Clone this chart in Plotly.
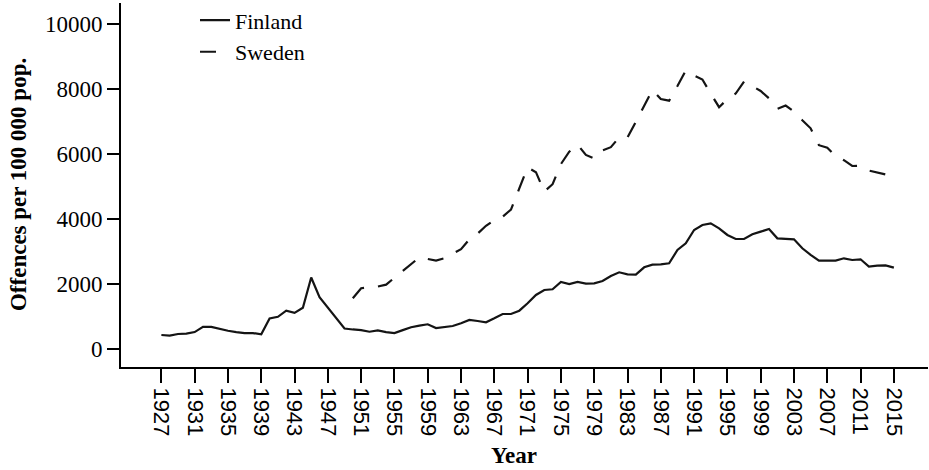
import plotly.graph_objects as go

# ---- data ----
finland_years = list(range(1927, 2016))
finland_values = [
    440, 420, 470, 480, 530, 690, 690, 620, 570, 530,   # 1927-1936
    500, 500, 460, 950, 1000, 1190, 1120, 1280, 2210, 1600,  # 1937-1946
    1280, 960, 640, 610, 590, 540, 580, 530, 500, 590,  # 1947-1956
    680, 730, 770, 655, 686, 717, 800, 902, 871, 830,   # 1957-1966
    954, 1086, 1086, 1188, 1415, 1671, 1825, 1846, 2071, 2009,  # 1967-1976
    2071, 2019, 2030, 2102, 2255, 2369, 2307, 2297, 2523, 2604,  # 1977-1986
    2614, 2646, 3056, 3262, 3671, 3825, 3877, 3723, 3518, 3394,  # 1987-1996
    3394, 3538, 3620, 3702, 3415, 3405, 3385, 3108, 2902, 2727,  # 1997-2006
    2716, 2727, 2800, 2748, 2769, 2543, 2573, 2583, 2512,        # 2007-2015
]

sweden_years = list(range(1950, 2016))
sweden_values = [
    1570, 1880, 1900, 1930, 1990, 2200, 2400, 2630, 2830, 2780,  # 1950-1959
    2730, 2800, 2950, 3080, 3380, 3560, 3800, 3970, 4080, 4300,  # 1960-1969
    4950, 5600, 5450, 4850, 5080, 5700, 6080, 6300, 5980, 5870,  # 1970-1979
    6120, 6220, 6520, 6520, 7000, 7500, 7980, 7700, 7650, 8100,  # 1980-1989
    8580, 8420, 8300, 7870, 7450, 7700, 7870, 8240, 8090, 7950,  # 1990-1999
    7720, 7400, 7500, 7320, 7050, 6800, 6280, 6200, 5950, 5820,  # 2000-2009
    5640, 5650, 5500, 5440, 5380, 5290,                          # 2010-2015
]

x_tick_values = list(range(1927, 2016, 4))
x_tick_labels = [str(v) for v in x_tick_values]
y_tick_values = [0, 2000, 4000, 6000, 8000, 10000]
y_tick_labels = ["0", "2000", "4000", "6000", "8000", "10000"]

LINE = "#141414"
SERIF = "Liberation Serif"

fig = go.Figure()
fig.add_trace(go.Scatter(
    x=finland_years, y=finland_values, mode="lines", name="Finland",
    line=dict(color=LINE, width=2.2),
))
fig.add_trace(go.Scatter(
    x=sweden_years, y=sweden_values, mode="lines", name="Sweden",
    line=dict(color=LINE, width=2.2, dash="16px,14px"),
))

fig.update_layout(
    width=929, height=470,
    margin=dict(l=121, r=1, t=3, b=103, autoexpand=False),
    paper_bgcolor="white", plot_bgcolor="white",
    showlegend=True,
    legend=dict(
        x=0.0917, y=1.01, xanchor="left", yanchor="top",
        font=dict(family=SERIF, size=22, color="black"),
        bgcolor="rgba(0,0,0,0)", borderwidth=0,
        tracegroupgap=0,
    ),
    xaxis=dict(
        range=[1922.15, 2019.1], automargin=False,
        tickmode="array", tickvals=x_tick_values, ticktext=x_tick_labels,
        tickangle=90,
        ticks="outside", ticklen=14, tickwidth=2, tickcolor="black",
        showline=True, linewidth=2, linecolor="black",
        showgrid=False, zeroline=False,
        tickfont=dict(family="Liberation Sans", size=22, color="black"),
    ),
    yaxis=dict(
        range=[-545, 10656], automargin=False,
        tickmode="array", tickvals=y_tick_values, ticktext=y_tick_labels,
        ticks="outside", ticklen=12, tickwidth=2, tickcolor="black",
        showline=True, linewidth=2, linecolor="black",
        showgrid=False, zeroline=False,
        tickfont=dict(family=SERIF, size=23, color="black"),
    ),
    annotations=[
        dict(text="<b>Offences per 100 000 pop.</b>", textangle=-90,
             xref="paper", yref="paper", x=-0.1276, y=0.5,
             xanchor="center", yanchor="middle", showarrow=False,
             font=dict(family=SERIF, size=23, color="black")),
        dict(text="<b>Year</b>",
             xref="paper", yref="paper", x=(514 - 121) / 807, y=(367 - 455) / 364,
             xanchor="center", yanchor="middle", showarrow=False,
             font=dict(family=SERIF, size=23, color="black")),
    ],
)

fig.write_html(
    "out.html",
    config={"displayModeBar": False},
    post_script="document.body.style.margin='0';document.body.style.overflow='hidden';",
)
